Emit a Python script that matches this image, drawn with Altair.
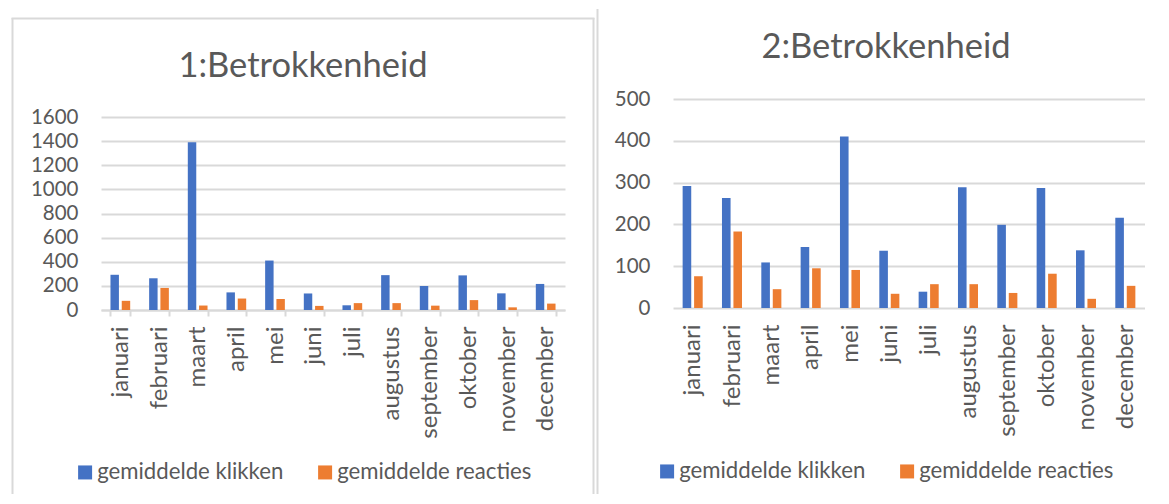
import altair as alt
import pandas as pd

# ---- data ----
maanden = ["januari", "februari", "maart", "april", "mei", "juni", "juli",
           "augustus", "september", "oktober", "november", "december"]
reeksen = ["gemiddelde klikken", "gemiddelde reacties"]

klikken_1 = [292, 263, 1390, 146, 410, 137, 39, 289, 199, 287, 138, 216]
reacties_1 = [76, 183, 37, 95, 91, 34, 57, 57, 36, 82, 22, 53]

klikken_2 = [292, 263, 109, 146, 410, 137, 39, 289, 199, 287, 138, 216]
reacties_2 = [76, 183, 45, 95, 91, 34, 57, 57, 36, 82, 22, 53]

y_ticks_1 = [0, 200, 400, 600, 800, 1000, 1200, 1400, 1600]
y_ticks_2 = [0, 100, 200, 300, 400, 500]

titel_1 = "1:Betrokkenheid"
titel_2 = "2:Betrokkenheid"

kleuren = ["#4472C4", "#ED7D31"]

FONT = "Lato"
TXT = "#595959"
GRID = "#d9d9d9"
NUM = 20.5    # numeric axis labels
MONTH = 24    # month labels
LEG = 22.2    # legend labels


def lang(klikken, reacties):
    rows = []
    for m, a, b in zip(maanden, klikken, reacties):
        rows.append({"maand": m, "reeks": reeksen[0], "waarde": a})
        rows.append({"maand": m, "reeks": reeksen[1], "waarde": b})
    return pd.DataFrame(rows)


def rule(x, x2, y, y2, opacity=1.0):
    return alt.Chart(pd.DataFrame({"k": [0]})).mark_rule(
        color=GRID, strokeWidth=2, opacity=opacity
    ).encode(x=alt.value(x), x2=alt.value(x2), y=alt.value(y), y2=alt.value(y2))


def paneel(df, titel, ticks_y, w, h, y_top, with_ticks, title_dx, title_off, lx, ly, rules):
    ymax = ticks_y[-1]
    bars = alt.Chart(df).mark_bar().encode(
        x=alt.X(
            "maand:N", sort=maanden, title=None,
            scale=alt.Scale(paddingInner=0.49, paddingOuter=0.245),
            axis=alt.Axis(
                labelAngle=270, labelFont=FONT, labelFontSize=MONTH, labelColor=TXT,
                domain=with_ticks, domainColor=GRID, domainWidth=2,
                ticks=with_ticks, tickColor=GRID, tickWidth=2,
                tickSize=6 if with_ticks else 0, tickBand="extent",
                labelPadding=10 if with_ticks else 16, grid=False,
            ),
        ),
        xOffset=alt.XOffset("reeks:N", sort=reeksen, scale=alt.Scale(paddingInner=0.25)),
        y=alt.Y(
            "waarde:Q", title=None,
            scale=alt.Scale(domain=[0, ymax], nice=False, range=[h, y_top]),
            axis=alt.Axis(
                values=ticks_y, format="d", labelFont=FONT, labelFontSize=NUM,
                labelColor=TXT, labelPadding=23, ticks=False, tickSize=0,
                domain=False, gridColor=GRID, gridWidth=2,
            ),
        ),
        color=alt.Color(
            "reeks:N", sort=reeksen,
            scale=alt.Scale(domain=reeksen, range=kleuren),
            legend=alt.Legend(
                title=None, orient="none", legendX=lx, legendY=ly,
                direction="horizontal", symbolType="square", symbolSize=196,
                symbolStrokeWidth=0, labelFont=FONT, labelFontSize=LEG,
                labelColor=TXT, labelOffset=1, columnPadding=30, padding=0,
                labelLimit=400,
            ),
        ),
    )
    layers = [bars] + rules
    return alt.layer(*layers).properties(
        width=w, height=h,
        title=alt.TitleParams(
            titel, anchor="middle", font=FONT, fontSize=34.5, fontWeight="normal",
            color=TXT, dx=title_dx, offset=title_off,
        ),
    )


# left panel: plot area at page (101,117), 464 x 193
links = paneel(
    lang(klikken_1, reacties_1), titel_1, y_ticks_1, 464, 193, 0, True, -30, -76, -27, 344,
    [
        rule(-93, -92, -109, -109, opacity=0.0),   # frame anchor
        rule(-88.5, -88.5, -99, 377),               # left border
        rule(-89.5, 493.5, -98.5, -98.5),           # top border
        rule(492.5, 492.5, -99, 377),               # right border
    ],
)

# right panel: shares the row origin (page y 117); its value range starts 18px higher
rechts = paneel(
    lang(klikken_2, reacties_2), titel_2, y_ticks_2, 472, 191, -18, False, -23, -57, -17, 343,
    [
        rule(-75.5, -75.5, -108, 377),              # left border
    ],
)

chart = alt.hconcat(links, rechts, spacing=0).resolve_scale(
    color="independent", x="independent", y="independent", xOffset="independent"
).properties(padding=0, background="white").configure_view(stroke=None)

chart.save("out.html", embed_options={"renderer": "svg", "actions": False})
